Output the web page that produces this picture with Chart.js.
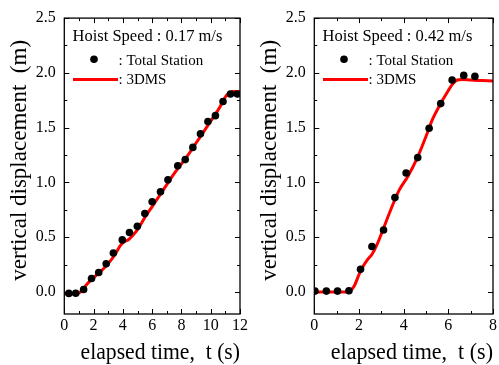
<!DOCTYPE html>
<html><head><meta charset="utf-8">
<script src="https://cdn.jsdelivr.net/npm/chart.js@4.4.1/dist/chart.umd.min.js"></script>
<style>
html,body{margin:0;padding:0;background:#fff;overflow:hidden}
#wrap{position:relative;width:499px;height:365px}
canvas{position:absolute;top:0}
</style></head><body>
<div id="wrap">
<canvas id="c1" width="250" height="365" style="left:0"></canvas>
<canvas id="c2" width="249" height="365" style="left:250px"></canvas>
</div>
<script>
const FONT = '"Liberation Serif","Times New Roman",serif';

// ---- Left panel (0.17 m/s) ----
const tsTime1 = [0.31,0.78,1.32,1.86,2.35,2.86,3.35,3.96,4.45,4.99,5.50,6.00,6.57,7.08,7.75,8.26,8.78,9.30,9.81,10.32,10.84,11.35,11.82];
const tsDisp1 = [-0.012,-0.01,0.024,0.124,0.178,0.258,0.356,0.476,0.543,0.600,0.716,0.824,0.916,1.024,1.153,1.209,1.320,1.444,1.556,1.610,1.739,1.808,1.808];
const dmsTime1 = [0,0.5,0.9,1.1,1.3,1.6,2.0,2.5,3.0,3.5,3.8,4.1,4.4,4.7,5.0,5.5,6.0,6.5,7.0,7.5,8.0,8.5,9.0,9.5,10.0,10.5,10.8,11.0,11.2,11.5,12.0];
const dmsDisp1 = [-0.01,-0.015,-0.012,0.0,0.03,0.08,0.13,0.19,0.26,0.35,0.42,0.46,0.48,0.52,0.57,0.68,0.78,0.88,0.98,1.08,1.17,1.26,1.36,1.46,1.56,1.66,1.73,1.78,1.81,1.83,1.83];

// ---- Right panel (0.42 m/s) ----
const tsTime2 = [0.03,0.54,1.04,1.55,2.07,2.58,3.10,3.61,4.11,4.63,5.14,5.66,6.17,6.69,7.19];
const tsDisp2 = [0.009,0.009,0.009,0.012,0.208,0.416,0.567,0.862,1.087,1.227,1.495,1.720,1.935,1.977,1.968];
const dmsTime2 = [0,0.5,1.0,1.4,1.6,1.8,2.0,2.2,2.4,2.6,2.8,3.0,3.4,3.8,4.2,4.6,5.0,5.3,5.6,6.0,6.2,6.4,6.6,7.0,7.5,8.0];
const dmsDisp2 = [0,0,0,0,0.01,0.06,0.16,0.24,0.30,0.35,0.43,0.53,0.74,0.93,1.06,1.22,1.42,1.58,1.70,1.84,1.90,1.935,1.94,1.935,1.93,1.925];

// ---- Ticks and labels ----
const yTicks = [0,0.5,1,1.5,2,2.5];
const yMinor = [0.25,0.75,1.25,1.75,2.25];
const xTicks1 = [0,2,4,6,8,10,12];
const xMinor1 = [1,3,5,7,9,11];
const xTicks2 = [0,2,4,6,8];
const xMinor2 = [1,3,5,7];
const speedLabels = ['Hoist Speed : 0.17 m/s','Hoist Speed : 0.42 m/s'];
const legendLabels = [': Total Station', ': 3DMS'];
const xTitle = '   elapsed time,  t (s)';
const yTitle = '  vertical displacement  (m)';

const zip = (a,b) => a.map((v,i) => ({x:v, y:b[i]}));

const framePlugin = {
  id: 'frame',
  afterDraw(chart, args, opts) {
    const {ctx, chartArea:a, scales:{x, y}} = chart;
    ctx.save();
    ctx.strokeStyle = '#000';
    ctx.lineWidth = 1;
    const xt = (v, len) => {
      const p = Math.round(x.getPixelForValue(v)) + 0.5;
      ctx.beginPath();
      ctx.moveTo(p, a.bottom); ctx.lineTo(p, a.bottom - len);
      ctx.moveTo(p, a.top); ctx.lineTo(p, a.top + len);
      ctx.stroke();
    };
    const yt = (v, len) => {
      const p = Math.round(y.getPixelForValue(v)) + 0.5;
      ctx.beginPath();
      ctx.moveTo(a.left, p); ctx.lineTo(a.left + len, p);
      ctx.moveTo(a.right, p); ctx.lineTo(a.right - len, p);
      ctx.stroke();
    };
    opts.xMajor.forEach(v => xt(v, 5));
    opts.xMinor.forEach(v => xt(v, 3));
    yTicks.forEach(v => yt(v, 5));
    yMinor.forEach(v => yt(v, 3));
    ctx.lineWidth = 1.3;
    ctx.strokeRect(a.left, a.top, a.right - a.left, a.bottom - a.top);
    // legend
    ctx.fillStyle = '#000';
    ctx.textBaseline = 'alphabetic';
    ctx.textAlign = 'left';
    ctx.font = '16.5px ' + FONT;
    ctx.fillText(opts.title, 72.5, 40.7);
    ctx.font = '15px ' + FONT;
    ctx.beginPath(); ctx.arc(94, 59.3, 3.8, 0, Math.PI*2); ctx.fill();
    ctx.fillText(legendLabels[0], 118.5, 65);
    ctx.strokeStyle = '#ff0000'; ctx.lineWidth = 3;
    ctx.beginPath(); ctx.moveTo(73, 79.5); ctx.lineTo(118, 79.5); ctx.stroke();
    ctx.fillText(legendLabels[1], 118.5, 84);
    ctx.restore();
  }
};

function makeChart(id, tsT, tsY, dT, dY, xmax, xMajor, xMinor, title, rightPad) {
  return new Chart(document.getElementById(id), {
    type: 'scatter',
    data: {
      datasets: [
        { label: 'Total Station', data: zip(tsT, tsY), showLine: false,
          pointRadius: 3.8, pointHoverRadius: 3.8, backgroundColor: '#000', borderWidth: 0, order: 0 },
        { label: '3DMS', data: zip(dT, dY), showLine: true, borderColor: '#ff0000',
          borderWidth: 3, pointRadius: 0, tension: 0, cubicInterpolationMode: 'monotone', fill: false, order: 1 }
      ]
    },
    options: {
      responsive: false, animation: false, devicePixelRatio: 1,
      layout: { padding: { top: 15.5, right: rightPad, left: 0, bottom: 0 } },
      plugins: { legend: { display: false }, tooltip: { enabled: false },
        frame: { xMajor: xMajor, xMinor: xMinor, title: title } },
      scales: {
        x: { type: 'linear', min: 0, max: xmax,
          grid: { display: false, drawTicks: false, tickLength: 0 }, border: { display: false },
          afterBuildTicks: s => { s.ticks = xMajor.map(v => ({value: v})); },
          afterFit: s => { s.height = 51; },
          ticks: { font: { family: FONT, size: 16 }, color: '#000', padding: 2, maxRotation: 0, autoSkip: false },
          title: { display: true, text: xTitle, color: '#000',
            font: { family: FONT, size: 23, lineHeight: 1 }, padding: { top: 0, bottom: 1 } } },
        y: { type: 'linear', min: -0.2, max: 2.5,
          grid: { display: false, drawTicks: false, tickLength: 0 }, border: { display: false },
          afterBuildTicks: s => { s.ticks = yTicks.map(v => ({value: v})); },
          afterFit: s => { s.width = 64.3; },
          ticks: { font: { family: FONT, size: 16 }, color: '#000', padding: 8.5, autoSkip: false,
            callback: v => Number(v).toFixed(1) },
          title: { display: true, text: yTitle, color: '#000',
            font: { family: FONT, size: 23, lineHeight: 1 }, padding: { top: 8.5, bottom: 0 } } }
      }
    },
    plugins: [framePlugin]
  });
}

makeChart('c1', tsTime1, tsDisp1, dmsTime1, dmsDisp1, 12, xTicks1, xMinor1, speedLabels[0], 6.7);
makeChart('c2', tsTime2, tsDisp2, dmsTime2, dmsDisp2, 8, xTicks2, xMinor2, speedLabels[1], 5.7);
</script>
</body></html>
